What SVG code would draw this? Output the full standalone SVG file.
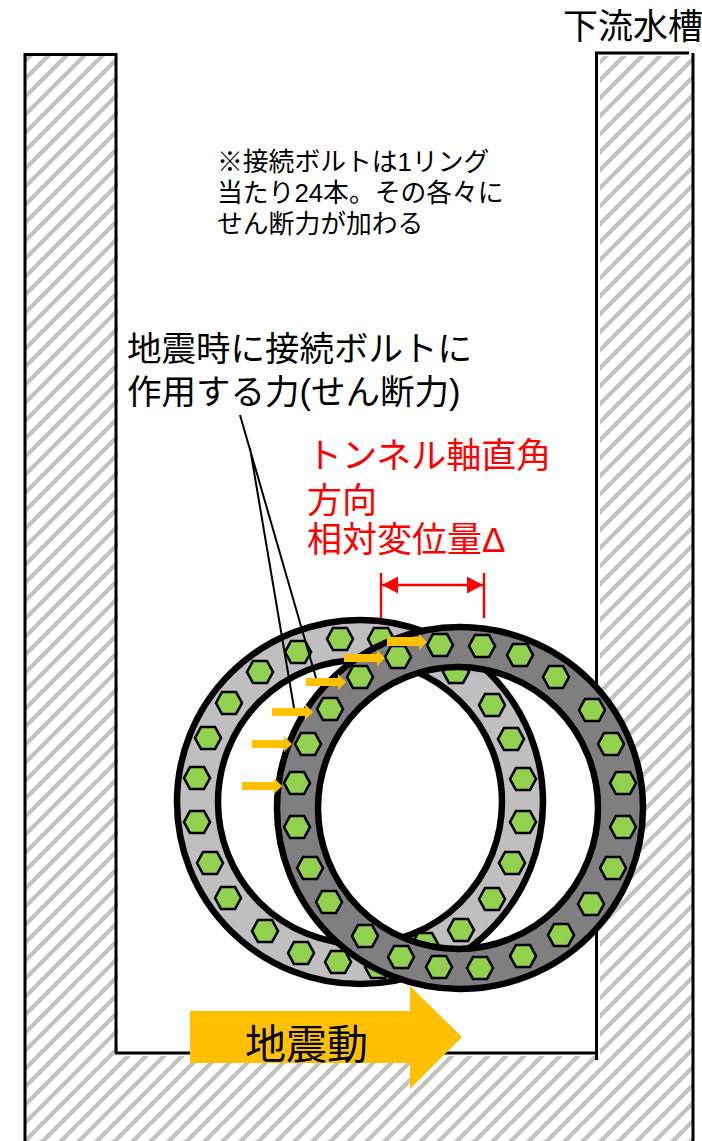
<svg xmlns="http://www.w3.org/2000/svg" width="702" height="1141" viewBox="0 0 702 1141">
<defs>
<style>
.wall{fill:none;stroke:#000;stroke-width:3}
.hex{fill:#92D050;stroke:#000;stroke-width:2.6;stroke-linejoin:miter}
.ring{stroke:#000;stroke-width:6.500;fill-rule:evenodd}
.arr{fill:#FFC000}
.lead{stroke:#000;stroke-width:2;fill:none}
.dim{stroke:#F00;stroke-width:2.400;fill:none}
text{font-family:"Liberation Sans","Noto Sans CJK JP",sans-serif;fill:#000}
</style>
<pattern id="hatch" width="18" height="18" patternUnits="userSpaceOnUse" patternTransform="translate(7 7)">
<path d="M-4 4L4 -4M0 18L18 0M14 22L22 14" stroke="#C2C2C2" stroke-width="4.400" fill="none"/>
</pattern>
<polygon id="b" points="-13,0 -7,-11 7,-11 13,0 7,11 -7,11"/>
<marker id="dh" viewBox="0 0 16 17" refX="16" refY="8.500" markerWidth="16" markerHeight="17" markerUnits="userSpaceOnUse" orient="auto-start-reverse"><path d="M0 0L16 8.500L0 17Z" fill="#F00"/></marker>
</defs>
<rect width="702" height="1141" fill="#fff"/>
<g id="walls">
<path d="M25 56H118V1056H600V56H692V1141H25Z" fill="url(#hatch)"/>
<path class="wall" d="M25 1141V54.500H116V1053M115 1053H598M596.500 1060V53H689M693 53V1141"/>
</g>
<g id="label-downstream"><text x="563" y="39" font-size="35">下流水槽</text></g>
<g id="note" font-size="25.800">
<text x="217" y="171">※接続ボルトは1リング</text>
<text x="217" y="202">当たり24本。その各々に</text>
<text x="217" y="233">せん断力が加わる</text>
</g>
<g id="label-force" font-size="34.500">
<text x="127" y="361">地震時に接続ボルトに</text>
<text x="127" y="404">作用する力(せん断力)</text>
</g>
<g id="label-delta" font-size="35">
<text x="307" y="468" style="fill:#F00">トンネル軸直角</text>
<text x="307" y="513" style="fill:#F00">方向</text>
<text x="307" y="552" style="fill:#F00">相対変位量Δ</text>
</g>
<g id="dimension">
<path class="dim" d="M381 573V618M484 573V618"/>
<path class="dim" stroke-width="2" d="M382 585H483" marker-start="url(#dh)" marker-end="url(#dh)"/>
</g>
<g id="ring-left">
<path class="ring" fill="#BFBFBF" d="M177 802a183 182 0 1 0 366 0a183 182 0 1 0 -366 0ZM218 802a142 142 0 1 0 284 0a142 142 0 1 0 -284 0Z"/>
<g class="hex">
<use href="#b" x="340" y="639"/><use href="#b" x="381" y="639"/><use href="#b" x="298" y="652"/><use href="#b" x="260" y="672"/><use href="#b" x="229" y="703"/><use href="#b" x="208" y="738"/><use href="#b" x="197" y="778"/><use href="#b" x="197" y="822"/><use href="#b" x="210" y="863"/><use href="#b" x="228" y="898"/><use href="#b" x="265" y="931"/><use href="#b" x="301" y="953"/><use href="#b" x="338" y="962"/><use href="#b" x="378" y="967"/><use href="#b" x="425" y="944"/><use href="#b" x="461" y="930"/><use href="#b" x="456" y="672"/><use href="#b" x="492" y="705"/><use href="#b" x="511" y="739"/><use href="#b" x="523" y="779"/><use href="#b" x="523" y="822"/><use href="#b" x="512" y="863"/><use href="#b" x="492" y="899"/><use href="#b" x="420" y="650"/>
</g>
</g>
<g id="ring-right">
<path class="ring" fill="#7F7F7F" d="M277 808a183 181 0 1 0 366 0a183 181 0 1 0 -366 0ZM318 808a140 141 0 1 0 280 0a140 141 0 1 0 -280 0Z"/>
<g class="hex">
<use href="#b" x="398" y="657"/><use href="#b" x="360" y="677"/><use href="#b" x="330" y="709"/><use href="#b" x="308" y="744"/><use href="#b" x="297" y="783"/><use href="#b" x="297" y="827"/><use href="#b" x="310" y="868"/><use href="#b" x="329" y="902"/><use href="#b" x="365" y="936"/><use href="#b" x="401" y="957"/><use href="#b" x="439" y="967"/><use href="#b" x="480" y="968"/><use href="#b" x="523" y="956"/><use href="#b" x="561" y="935"/><use href="#b" x="591" y="904"/><use href="#b" x="613" y="868"/><use href="#b" x="623" y="827"/><use href="#b" x="623" y="783"/><use href="#b" x="611" y="744"/><use href="#b" x="592" y="710"/><use href="#b" x="556" y="677"/><use href="#b" x="520" y="655"/><use href="#b" x="482" y="646"/><use href="#b" x="440" y="645"/>
</g>
</g>
<g id="connectors">
<path class="lead" d="M240 415L316 678M250 448L294 708"/>
<g class="arr">
<polygon points="242,782 274,782 274,778 282,786 274,794 274,790 242,790"/>
<polygon points="252,740 284,740 284,736 292,744 284,752 284,748 252,748"/>
<polygon points="272,708 305,708 305,704 313,712 305,720 305,716 272,716"/>
<polygon points="306,678 338,678 338,674 346,682 338,690 338,686 306,686"/>
<polygon points="344,654 377,654 377,650 385,658 377,666 377,662 344,662"/>
<polygon points="387,637 419,637 419,634 427,642 419,650 419,646 387,646"/>
</g>
</g>
<g id="quake-arrow">
<polygon class="arr" points="190,1011 410,1011 410,986 462,1037 410,1089 410,1063 190,1063"/>
<text x="245" y="1059" font-size="41">地震動</text>
</g>
</svg>
